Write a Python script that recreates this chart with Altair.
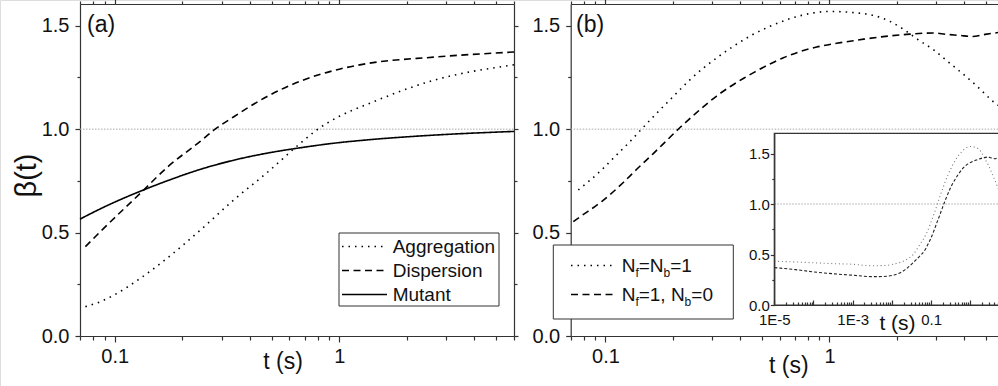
import altair as alt
import pandas as pd

FONT = "Liberation Sans"
INK = "#111111"
AXIS_INK = "#333333"

# ---------------- panel (a): beta(t) for the three strains ----------------
a_t_agg = [0.074, 0.0863, 0.1, 0.13, 0.171, 0.241, 0.339, 0.477, 0.671, 0.796, 1.0, 1.33, 2.63, 6.0]
a_agg = [0.142, 0.166, 0.2, 0.279, 0.376, 0.513, 0.658, 0.79, 0.932, 0.997, 1.062, 1.12, 1.236, 1.311]

a_t_dis = [0.074, 0.0863, 0.13, 0.171, 0.241, 0.276, 0.339, 0.477, 0.671, 1.0, 1.33, 2.63, 6.0]
a_dis = [0.432, 0.505, 0.69, 0.815, 0.942, 0.995, 1.06, 1.158, 1.232, 1.29, 1.317, 1.348, 1.373]

a_t_mut = [0.07, 0.0863, 0.13, 0.171, 0.241, 0.339, 0.477, 0.671, 1.0, 1.33, 2.63, 6.0]
a_mut = [0.565, 0.615, 0.70, 0.75, 0.806, 0.85, 0.884, 0.91, 0.935, 0.948, 0.971, 0.989]

# ---------------- panel (b): model with N_f, N_b ----------------
b_t_nb1 = [1e-5, 3.5e-5, 1e-4, 3e-4, 1e-3, 3e-3, 6e-3, 0.012, 0.022, 0.035, 0.05,
           0.0757, 0.0962, 0.1104, 0.1287, 0.1487, 0.1722, 0.2009, 0.2344, 0.2734,
           0.319, 0.372, 0.442, 0.5425, 0.65, 0.75, 0.849, 1.0, 1.32, 1.57, 1.86,
           2.13, 2.49, 2.91, 3.37, 3.93, 4.57, 5.33, 5.65]
b_nb1 = [0.433, 0.426, 0.418, 0.41, 0.403, 0.389, 0.39, 0.408, 0.443, 0.5, 0.59,
         0.706, 0.803, 0.868, 0.94, 1.013, 1.085, 1.158, 1.231, 1.295,
         1.35, 1.40, 1.45, 1.497, 1.53, 1.55, 1.562, 1.569, 1.562, 1.55, 1.521,
         1.484, 1.432, 1.384, 1.327, 1.268, 1.206, 1.137, 1.115]

b_t_nb0 = [1e-5, 3.5e-5, 1e-4, 3e-4, 1e-3, 3e-3, 6e-3, 0.012, 0.022, 0.035, 0.05,
           0.0719, 0.077, 0.0962, 0.1202, 0.1379, 0.1636, 0.1877, 0.2153, 0.2427,
           0.2734, 0.3136, 0.3597, 0.4124, 0.465, 0.5424, 0.6222, 0.7385, 0.8765,
           1.076, 1.234, 1.42, 2.21, 2.90, 3.33, 3.82, 4.31, 4.95, 5.65]
b_nb0 = [0.37, 0.35, 0.328, 0.31, 0.295, 0.281, 0.282, 0.3, 0.35, 0.42, 0.48,
         0.553, 0.576, 0.65, 0.742, 0.806, 0.882, 0.945, 1.008, 1.059,
         1.108, 1.16, 1.205, 1.245, 1.277, 1.315, 1.345, 1.375, 1.397,
         1.415, 1.425, 1.435, 1.458, 1.465, 1.458, 1.453, 1.448, 1.458, 1.467]

A_NAMES = ["Aggregation", "Dispersion", "Mutant"]
B_NAMES = ["Nf=Nb=1", "Nf=1, Nb=0"]

df_a = pd.concat([
    pd.DataFrame({"t": a_t_agg, "beta": a_agg, "series": A_NAMES[0]}),
    pd.DataFrame({"t": a_t_dis, "beta": a_dis, "series": A_NAMES[1]}),
    pd.DataFrame({"t": a_t_mut, "beta": a_mut, "series": A_NAMES[2]}),
], ignore_index=True)

df_b = pd.concat([
    pd.DataFrame({"t": b_t_nb1, "beta": b_nb1, "series": B_NAMES[0]}),
    pd.DataFrame({"t": b_t_nb0, "beta": b_nb0, "series": B_NAMES[1]}),
], ignore_index=True)

one = pd.DataFrame({"k": [0]})


def log_ticks(e_lo, e_hi, lo, hi):
    vals = []
    for e in range(e_lo, e_hi + 1):
        for k in range(1, 10):
            v = float(f"{k}e{e}")
            if lo <= v <= hi:
                vals.append(v)
    return vals


xa_ticks = log_ticks(-2, 0, 0.07, 6.0)
xb_ticks = log_ticks(-2, 0, 0.07, 5.65)
xi_ticks = log_ticks(-5, 0, 1e-5, 5.1)
y_ticks = [0.0, 0.25, 0.5, 0.75, 1.0, 1.25, 1.5]

# ---------------- scales (each panel placed on one shared canvas) ----------------
xa = alt.Scale(type="log", domain=[0.07, 6.0], range=[80, 514], nice=False)
xb = alt.Scale(type="log", domain=[0.07, 5.65], range=[570.7, 998], nice=False)
xi = alt.Scale(type="log", domain=[1e-5, 5.1], range=[774.3, 998], nice=False)
y_main = alt.Scale(domain=[0, 1.605], range=[336, 4], nice=False, zero=False)
y_in = alt.Scale(domain=[0, 1.7], range=[305, 133.3], nice=False, zero=False)

X_MAJOR = "datum.value == 0.1 || datum.value == 1"
X_LABEL = "datum.value == 0.1 ? '0.1' : (datum.value == 1 ? '1' : '')"
Y_MAJOR = "datum.value % 0.5 == 0"
Y_LABEL = "datum.value % 0.5 == 0 ? format(datum.value, '.1f') : ''"
I_MAJOR = "abs(log(datum.value) / LN10 - round(log(datum.value) / LN10)) < 0.001"
I_LABEL = ("datum.value == 0.00001 ? '1E-5' : (datum.value == 0.001 ? '1E-3' : "
           "(datum.value == 0.1 ? '0.1' : ''))")


def tick_len(test, major, minor):
    return {"condition": {"test": test, "value": major}, "value": minor}


def axis(**kw):
    base = dict(domainColor=AXIS_INK, domainWidth=1.2, tickColor=AXIS_INK, tickWidth=1.2,
                labelFont=FONT, labelColor=INK, labelOverlap=False, labelFlush=False,
                grid=False, titleFont=FONT, titleColor=INK, titleFontWeight="normal")
    base.update(kw)
    return alt.Axis(**base)


def ref_line(xs, x_lo, x_hi, ys):
    return alt.Chart(one).mark_rule(color="#a8a8a8", strokeWidth=1, strokeDash=[1.5, 1.5]).encode(
        x=alt.XDatum(x_lo, type="quantitative", scale=xs, axis=None),
        x2=alt.X2Datum(x_hi),
        y=alt.YDatum(1.0, type="quantitative", scale=ys, axis=None),
    )


def text(label, x, y, size, align="left"):
    return alt.Chart(one).mark_text(
        text=label, font=FONT, fontSize=size, color=INK, align=align, baseline="alphabetic"
    ).encode(x=alt.value(x), y=alt.value(y))


def sample(x0, x1, y, dash, width=1.5):
    return alt.Chart(one).mark_rule(color="black", strokeWidth=width, strokeDash=dash).encode(
        x=alt.value(x0), x2=alt.value(x1), y=alt.value(y))


def box(x0, x1, y0, y1):
    return alt.Chart(one).mark_rect(fill="white", stroke=AXIS_INK, strokeWidth=1).encode(
        x=alt.value(x0), x2=alt.value(x1), y=alt.value(y0), y2=alt.value(y1))


DOT = [1.5, 5]
DASH = [7, 4.5]
SOLID = [1, 0]

# ---------------- panel (a) ----------------
curves_a = alt.Chart(df_a).mark_line(interpolate="monotone", color="black", strokeWidth=1.6).encode(
    x=alt.X("t:Q", scale=xa, axis=axis(
        orient="bottom", offset=-50, values=xa_ticks, labelExpr=X_LABEL,
        tickSize=tick_len(X_MAJOR, 6, 4), labelFontSize=20, labelPadding=4,
        title="t (s)", titleFontSize=23, titleX=282.5, titleY=32,
        titleAlign="center", titleBaseline="alphabetic")),
    y=alt.Y("beta:Q", scale=y_main, axis=axis(
        orient="left", offset=-80, values=y_ticks, labelExpr=Y_LABEL,
        tickSize=tick_len(Y_MAJOR, 5, 3), labelFontSize=20, labelPadding=6,
        title="β(t)", titleFontSize=29, titleAngle=270, titleX=-45, titleY=175,
        titleAlign="center", titleBaseline="alphabetic")),
    strokeDash=alt.StrokeDash("series:N", legend=None,
                              scale=alt.Scale(domain=A_NAMES, range=[DOT, DASH, SOLID])),
)

frame_a = alt.Chart(df_a).mark_line(opacity=0).encode(
    x=alt.X("t:Q", scale=xa, axis=axis(
        orient="top", offset=-4, values=xa_ticks, labels=False,
        tickSize=tick_len(X_MAJOR, 5, 3), title=None)),
    y=alt.Y("beta:Q", scale=y_main, axis=axis(
        orient="right", offset=-484, values=y_ticks, labels=False,
        tickSize=tick_len(Y_MAJOR, 4, 3), title=None)),
)

legend_a = [box(339, 499, 233, 306)]
for i, (name, dash) in enumerate(zip(A_NAMES, [DOT, DASH, SOLID])):
    legend_a.append(sample(342, 387, 246.5 + 24 * i, dash))
    legend_a.append(text(name, 392.7, 253.3 + 24 * i, 19))

# ---------------- panel (b) ----------------
curves_b = alt.Chart(df_b).transform_filter("datum.t >= 0.07").mark_line(
    interpolate="monotone", color="black", strokeWidth=1.6).encode(
    x=alt.X("t:Q", scale=xb, axis=axis(
        orient="bottom", offset=-50, values=xb_ticks, labelExpr=X_LABEL,
        tickSize=tick_len(X_MAJOR, 6, 4), labelFontSize=20, labelPadding=4,
        title="t (s)", titleFontSize=23, titleX=788.3, titleY=36,
        titleAlign="center", titleBaseline="alphabetic")),
    y=alt.Y("beta:Q", scale=y_main, axis=axis(
        orient="left", offset=-570.7, values=y_ticks, labelExpr=Y_LABEL,
        tickSize=tick_len(Y_MAJOR, 5, 3), labelFontSize=20, labelPadding=6, title=None)),
    strokeDash=alt.StrokeDash("series:N", legend=None,
                              scale=alt.Scale(domain=B_NAMES, range=[DOT, DASH])),
)

frame_b = alt.Chart(df_b).transform_filter("datum.t >= 0.07").mark_line(opacity=0).encode(
    x=alt.X("t:Q", scale=xb, axis=axis(
        orient="top", offset=-4, values=xb_ticks, labels=False,
        tickSize=tick_len(X_MAJOR, 5, 3), title=None)),
    y=alt.Y("beta:Q", scale=y_main, axis=None),
)

# legend with subscripted N_f / N_b, built from text runs
legend_b = [box(553.3, 733.3, 245, 319),
            sample(571, 613, 265.5, DOT),
            sample(571, 613, 294.5, DASH)]
row1 = [("N", 621.7, 0), ("f", 635.4, 1), ("=N", 638.7, 0), ("b", 663.5, 1), ("=1", 670.2, 0)]
row2 = [("N", 621.7, 0), ("f", 635.4, 1), ("=1, N", 638.7, 0), ("b", 684.6, 1), ("=0", 691.3, 0)]
for base_y, row in [(271.7, row1), (300.5, row2)]:
    for s, x, sub in row:
        if sub:
            legend_b.append(text(s, x, base_y + 5.5, 12))
        else:
            legend_b.append(text(s, x, base_y, 19))

# ---------------- inset of panel (b) ----------------
inset_bg = alt.Chart(one).mark_rect(fill="white", stroke=AXIS_INK, strokeWidth=1.2).encode(
    x=alt.XDatum(1e-5, type="quantitative", scale=xi, axis=None),
    x2=alt.X2Datum(10.0),
    y=alt.YDatum(0.0, type="quantitative", scale=y_in, axis=None),
    y2=alt.Y2Datum(1.7),
)

curves_in = alt.Chart(df_b).mark_line(interpolate="monotone", strokeWidth=1.1).encode(
    x=alt.X("t:Q", scale=xi, axis=axis(
        orient="bottom", offset=-81, values=xi_ticks, labelExpr=I_LABEL,
        ticks=False, tickSize=0, labelFontSize=15, labelPadding=7, zindex=1,
        title="t (s)", titleFontSize=21, titleX=897, titleY=24,
        titleAlign="center", titleBaseline="alphabetic")),
    y=alt.Y("beta:Q", scale=y_in, axis=axis(
        orient="left", offset=-774.3, values=y_ticks, labelExpr=Y_LABEL,
        tickSize=tick_len(Y_MAJOR, 4, 2.5), labelFontSize=15, labelPadding=1,
        zindex=1, title=None)),
    strokeDash=alt.StrokeDash("series:N", legend=None,
                              scale=alt.Scale(domain=B_NAMES, range=[[1, 2.8], [3, 2]])),
    color=alt.Color("series:N", legend=None,
                    scale=alt.Scale(domain=B_NAMES, range=["#777777", "#222222"])),
)

ticks_in = alt.Chart(df_b).mark_line(opacity=0).encode(
    x=alt.X("t:Q", scale=xi, axis=axis(
        orient="top", offset=-305, values=xi_ticks, labels=False, domain=False,
        tickSize=tick_len(I_MAJOR, 5, 3), zindex=1, title=None)),
    y=alt.Y("beta:Q", scale=y_in, axis=None),
)

layers = (
    [ref_line(xa, 0.07, 6.0, y_main), curves_a, frame_a] + legend_a + [text("(a)", 87, 32, 23)]
    + [ref_line(xb, 0.07, 5.65, y_main), curves_b, frame_b] + legend_b + [text("(b)", 576, 32, 23)]
    + [inset_bg, ref_line(xi, 1e-5, 5.1, y_in), curves_in, ticks_in]
)

chart = (
    alt.layer(*layers)
    .resolve_scale(x="independent", y="independent", strokeDash="independent", color="independent")
    .properties(width=998, height=386, padding=0, autosize=alt.AutoSizeParams(type="none"))
    .configure_view(stroke=None)
    .configure(background="white", font=FONT)
)

chart.save("out.html", embed_options={"renderer": "svg", "actions": False})
